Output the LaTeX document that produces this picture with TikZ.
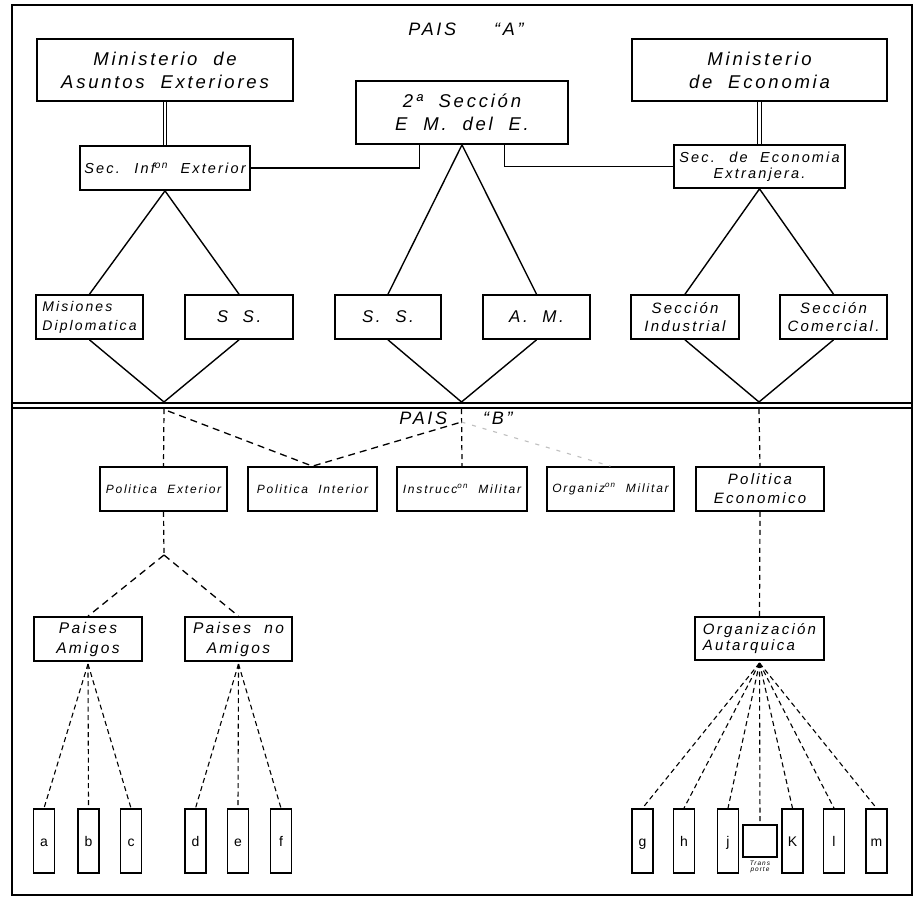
\documentclass[tikz,border=0pt]{standalone}
\usepackage{fontspec}
\setmainfont{Liberation Sans}[LetterSpace=15, WordSpace=2]
\newfontfamily\plainfont{Liberation Sans}
\usetikzlibrary{calc}
\begin{document}
\begin{tikzpicture}[x=1pt,y=-1pt,
  box/.style={draw, line width=1.7pt, inner sep=1pt, align=center, font=\itshape},
  bigt/.style={font=\itshape\fontsize{18.5}{23}\selectfont},
  sst/.style={font=\itshape\fontsize{17}{19}\selectfont},
  midt/.style={font=\itshape\fontsize{14.5}{16.5}\selectfont},
  twot/.style={font=\itshape\fontsize{15}{19}\selectfont},
  onet/.style={font=\itshape\fontsize{12}{14}\selectfont},
  letterbox/.style={draw, line width=1.7pt, minimum width=21pt, minimum height=64pt, inner sep=0pt, text height=10pt, text depth=0pt, font=\plainfont\fontsize{14}{15}\selectfont},
  link/.style={line width=1.4pt},
  dlink/.style={line width=1.3pt, dash pattern=on 7pt off 5pt},
  vlink/.style={line width=1.2pt, dash pattern=on 5pt off 4pt},
  flink/.style={line width=1.1pt, dash pattern=on 5pt off 3.5pt},
  glink/.style={line width=1.1pt, gray!50, dash pattern=on 4pt off 7pt},
  dbl/.style={line width=1.1pt, double, double distance=2.2pt},
  titlet/.style={font=\itshape\fontsize{18}{20}\selectfont}]
\useasboundingbox (0,0) rectangle (917,898);
\fill[white] (0,0) rectangle (917,898);
% frame
\draw[line width=2pt] (12,5) rectangle (912,895);
\draw[line width=1.3pt] (12,403) -- (912,403);
\draw[line width=1.3pt] (12,408) -- (912,408);

\node[titlet] (paisa) at (466,29) {PAIS\hspace{38pt}``A''};
\node[titlet] (paisb) at (456,418) {PAIS\hspace{36pt}``B''};

% top ministries
\node[box, bigt, minimum width=256pt, minimum height=62pt] (mae) at (165,70) {Ministerio de\\Asuntos Exteriores};
\node[box, bigt, minimum width=212pt, minimum height=63pt] (sec2) at (462,112.5) {2ª Sección\\E M. del E.};
\node[box, bigt, minimum width=255pt, minimum height=62pt] (mec) at (759.5,70) {Ministerio\\de Economia};
\node[box, midt, minimum width=170pt, minimum height=44pt] (secinf) at (165,168) {Sec. Inf\textsuperscript{on} Exterior};
\node[box, midt, minimum width=171pt, minimum height=43pt] (secec) at (759.5,166.5) {Sec. de Economia\\Extranjera.};

% second row
\node[box, font=\itshape\fontsize{14}{19}\selectfont, minimum width=107pt, minimum height=44pt, align=left] (mis) at (89.5,317) {Misiones\\Diplomatica};
\node[box, sst, minimum width=108pt, minimum height=44pt] (ss1) at (239,317) {S S.};
\node[box, sst, minimum width=106pt, minimum height=44pt] (ss2) at (388,317) {S. S.};
\node[box, sst, minimum width=107pt, minimum height=44pt] (am) at (536.5,317) {A. M.};
\node[box, font=\itshape\fontsize{15}{18}\selectfont, minimum width=108pt, minimum height=44pt] (ind) at (685,317) {Sección\\Industrial};
\node[box, font=\itshape\fontsize{15}{18}\selectfont, minimum width=107pt, minimum height=44pt] (com) at (833.5,317) {Sección\\Comercial.};

% connections top
\draw[dbl] (mae.south) -- (secinf.north);
\draw[dbl] (mec.south) -- (secec.north);
\draw[link] ($(sec2.south west)!0.3!(sec2.south east)$) |- (secinf.east);
\draw[link] ($(sec2.south west)!0.7!(sec2.south east)$) |- (secec.west);
\draw[link] (mis.north) -- (secinf.south) -- (ss1.north);
\draw[link] (ss2.north) -- (sec2.south) -- (am.north);
\draw[link] (ind.north) -- (secec.south) -- (com.north);
\coordinate (v1) at (164,402);
\coordinate (v2) at (461.5,402);
\coordinate (v3) at (759,402);
\draw[link] (mis.south) -- (v1) -- (ss1.south);
\draw[link] (ss2.south) -- (v2) -- (am.south);
\draw[link] (ind.south) -- (v3) -- (com.south);

% country B row
\node[box, onet, minimum width=127pt, minimum height=44pt] (pe) at (163.5,489) {Politica Exterior};
\node[box, onet, minimum width=129pt, minimum height=44pt] (pint) at (312.5,489) {Politica Interior};
\node[box, onet, minimum width=130pt, minimum height=44pt] (im) at (462,489) {Instrucc\textsuperscript{on} Militar};
\node[box, onet, minimum width=127pt, minimum height=44pt] (om) at (610.5,489) {Organiz\textsuperscript{on} Militar};
\node[box, twot, minimum width=128pt, minimum height=44pt] (pec) at (760,489) {Politica\\Economico};

\coordinate (w1) at (164,409);
\coordinate (w2) at (461.5,409);
\coordinate (w3) at (759,409);
\coordinate (d1) at (168,411);
\coordinate (d2) at (461.5,422);
\draw[vlink] (w1) -- (pe.north);
\draw[vlink] (w2) -- (im.north);
\draw[vlink] (w3) -- (pec.north);
\draw[dlink] (d1) -- (pint.north) -- (d2);
\draw[glink] (d2) -- (om.north);

\node[box, font=\itshape\fontsize{15.5}{20}\selectfont, minimum width=108pt, minimum height=44pt] (pa) at (88,639) {Paises\\Amigos};
\node[box, font=\itshape\fontsize{15.5}{20}\selectfont, minimum width=107pt, minimum height=44pt] (pna) at (238.5,639) {Paises no\\Amigos};
\node[box, font=\itshape\fontsize{15}{16.5}\selectfont, minimum width=129pt, minimum height=43pt, align=left] (oa) at (759.5,638.5) {Organización\\Autarquica};

\coordinate (s1) at (164,555);
\draw[vlink] (pe.south) -- (s1);
\draw[dlink] (s1) -- (pa.north);
\draw[dlink] (s1) -- (pna.north);
\draw[vlink] (pec.south) -- (oa.north);

% letters
\node[letterbox] (a) at (44,841) {a};
\node[letterbox] (b) at (88.5,841) {b};
\node[letterbox] (c) at (131,841) {c};
\node[letterbox] (d) at (195.5,841) {d};
\node[letterbox] (e) at (238,841) {e};
\node[letterbox] (f) at (281,841) {f};
\node[letterbox] (g) at (642.5,841) {g};
\node[letterbox] (h) at (684,841) {h};
\node[letterbox] (j) at (728,841) {j};
\node[letterbox] (k) at (792.5,841) {K};
\node[letterbox] (l) at (834,841) {l};
\node[letterbox] (m) at (876.5,841) {m};
\node[draw, line width=1.7pt, minimum width=34pt, minimum height=32pt, inner sep=0pt] (tr) at (760,841) {};
\node[font=\itshape\fontsize{6.5}{6.5}\selectfont, align=center, inner sep=0pt, anchor=north] (trl) at ($(tr.south)+(0,2.5)$) {Trans\\porte};

\coordinate (fa) at (88,664);
\coordinate (fb) at (238.5,664);
\coordinate (fc) at (759.5,663);
\foreach \t in {a,b,c} \draw[flink] (fa) -- (\t.north);
\foreach \t in {d,e,f} \draw[flink] (fb) -- (\t.north);
\foreach \t in {g,h,j,tr,k,l,m} \draw[flink] (fc) -- (\t.north);
\end{tikzpicture}
\end{document}
